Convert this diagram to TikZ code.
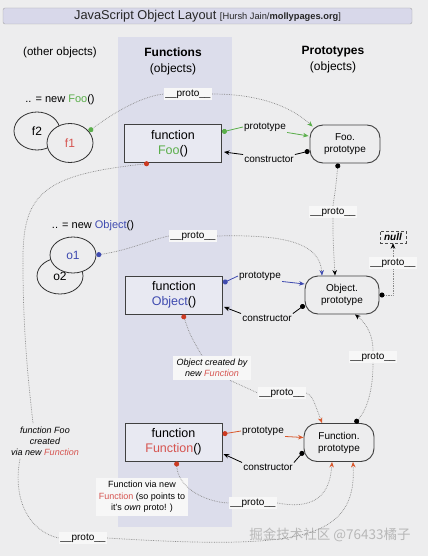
\documentclass[tikz,border=0pt]{standalone}
\usepackage{fontspec}
\setmainfont{Liberation Sans}
\newfontfamily\cjk{Noto Sans CJK SC}
\usetikzlibrary{arrows.meta,shapes.geometric}
\definecolor{bgc}{HTML}{EDEDEE}
\definecolor{colc}{HTML}{DCDDEB}
\definecolor{titlec}{HTML}{D8D8EA}
\definecolor{foog}{HTML}{5AAE4A}
\definecolor{objb}{HTML}{3F4BB0}
\definecolor{funr}{HTML}{D65450}
\definecolor{dotr}{HTML}{CC3A22}
\definecolor{arrr}{HTML}{D9582C}
\definecolor{linec}{HTML}{8A8A8A}

\begin{document}
\begin{tikzpicture}[x=1pt, y=-1pt,
    fnbox/.style={draw=black!75, line width=1pt, fill=white!35!colc, minimum width=97pt, minimum height=38pt, align=center, font=\fontsize{12.5}{15}\selectfont},
    protobox/.style={draw=black!75, line width=0.9pt, rounded corners=13pt, minimum height=38pt, align=center, font=\fontsize{10}{12}\selectfont},
    objell/.style={ellipse, draw=black!80, line width=0.8pt, fill=bgc, minimum width=46pt, minimum height=38pt, font=\fontsize{12}{14}\selectfont},
    lbl/.style={inner sep=1pt, font=\fontsize{10}{12}\selectfont},
    plabel/.style={fill=white!55!bgc, inner sep=1.5pt, font=\fontsize{10}{12}\selectfont},
    note/.style={align=center, font=\fontsize{9}{11}\selectfont\itshape},
    pline/.style={densely dotted, line width=0.7pt, draw=linec},
    link/.style={line width=0.8pt},
    gdot/.style={arrows={Circle[length=5pt,color=#1]}-},
    arr/.style={arrows=-{Stealth[length=5.5pt,width=4.5pt,color=#1]}}
    ]
    \fill[bgc] (0,0) rectangle (428,556);
    \fill[colc] (118,37) rectangle (232,527);
    \node[draw=black!35, fill=titlec, rounded corners=2pt, minimum width=409pt, minimum height=16pt, inner sep=0pt, text=black!85] (title) at (207.5,16) {\fontsize{12.8}{14}\selectfont JavaScript Object Layout {\fontsize{9.3}{11}\selectfont [Hursh Jain/\textbf{mollypages.org}]}};

    \node[font=\fontsize{11.5}{14}\selectfont] (otherHead) at (60,53) {(other objects)};
    \node[align=center, font=\fontsize{12}{16}\selectfont] (fnHead) at (173,61) {\textbf{Functions}\\(objects)};
    \node[align=center, font=\fontsize{12}{16}\selectfont] (protoHead) at (333,60) {\textbf{Prototypes}\\(objects)};

    \node[font=\fontsize{11}{13}\selectfont] (newFoo) at (60,100) {.. = new \textcolor{foog}{Foo}()};
    \node[objell] (f2) at (37,131) {f2};
    \node[objell, minimum height=39pt, text=funr] (f1) at (70,143) {f1};
    \node[font=\fontsize{11}{13}\selectfont] (newObj) at (93,226) {.. = new \textcolor{objb}{Object}()};
    \node[objell, minimum height=36pt] (o2) at (60,276) {\raisebox{-6pt}{o2}};
    \node[objell, minimum height=36pt, text=objb] (o1) at (73,255) {o1};

    \node[fnbox] (fooFn) at (173,144) {function\\\textcolor{foog}{Foo}()};
    \node[fnbox] (objFn) at (174,295) {function\\\textcolor{objb}{Object}()};
    \node[fnbox] (funFn) at (173.5,442) {function\\\textcolor{funr}{Function}()};
    \node[protobox, minimum width=70pt] (fooProto) at (345,144) {Foo.\\prototype};
    \node[protobox, minimum width=74pt] (objProto) at (342,295) {Object.\\prototype};
    \node[protobox, minimum width=70pt] (funProto) at (339,442.5) {Function.\\prototype};
    \node[draw=black!70, densely dashed, minimum width=26pt, minimum height=12pt, inner sep=1pt, font=\fontsize{10}{12}\selectfont\bfseries\itshape] (nullBox) at (393,237) {null};

    \node[lbl] (fooPt) at (265,127) {prototype};
    \node[lbl] (fooCt) at (269,159) {constructor};
    \node[lbl] (objPt) at (260,276) {prototype};
    \node[lbl] (objCt) at (267,318) {constructor};
    \node[lbl] (funPt) at (263,431) {prototype};
    \node[lbl] (funCt) at (268,467) {constructor};

    \node[plabel] (fooUp) at (188,94) {\_\_proto\_\_};
    \node[plabel] (objUp) at (193,236) {\_\_proto\_\_};
    \node[plabel] (fooProtoUp) at (333,212) {\_\_proto\_\_};
    \node[plabel] (nullUp) at (393,263) {\_\_proto\_\_};
    \node[plabel] (objFnUp) at (282,393) {\_\_proto\_\_};
    \node[plabel] (funProtoUp) at (373,357) {\_\_proto\_\_};
    \node[plabel] (funFnUp) at (253,503) {\_\_proto\_\_};
    \node[plabel] (fooFnUp) at (83,538) {\_\_proto\_\_};

    \node[note, fill=white!55!bgc] (objNote) at (212,368) {Object created by\\new \textcolor{funr}{Function}};
    \node[note] (fooNote) at (45,441) {function Foo\\created\\via new \textcolor{funr}{Function}};
    \node[note, fill=white!55!bgc, font=\fontsize{9}{11.5}\selectfont] (funNote) at (142,497) {Function via new\\\textcolor{funr}{Function} (so points to\\it's \textit{own} proto! )};
    \node[text=black!28, font=\cjk\fontsize{13.5}{16}\selectfont] (mark) at (330,535) {掘金技术社区 @76433橘子};

    \draw[link, draw=foog, gdot=foog] ([shift={(0,-12)}]fooFn.east) -- (fooPt.west);
    \draw[link, draw=foog, arr=foog] (fooPt.south east) -- ([shift={(-1,-8)}]fooProto.west);
    \draw[link, gdot=black] ([shift={(0,7)}]fooProto.west) -- (fooCt.north east);
    \draw[link, arr=black] (fooCt.north west) -- ([shift={(2,8)}]fooFn.east);
    \draw[link, draw=objb, gdot=objb] ([shift={(0,-12)}]objFn.east) -- (objPt.west);
    \draw[link, draw=objb, arr=objb] (objPt.south east) -- ([shift={(0,-11)}]objProto.west);
    \draw[link, gdot=black] ([shift={(0,10)}]objProto.west) -- (objCt.north east);
    \draw[link, arr=black] (objCt.north west) -- ([shift={(1,12)}]objFn.east);
    \draw[link, draw=arrr, gdot=dotr] ([shift={(0,-8)}]funFn.east) -- (funPt.west);
    \draw[link, draw=arrr, arr=arrr] (funPt.south east) -- ([shift={(0,-5)}]funProto.west);
    \draw[link, gdot=black] ([shift={(0,9)}]funProto.west) -- (funCt.north east);
    \draw[link, arr=black] (funCt.north west) -- ([shift={(1,12)}]funFn.east);

    \draw[pline, gdot=foog] (f1.32) .. controls (120,108) and (145,96) .. (fooUp.west);
    \draw[pline, arr=foog] (fooUp.east) .. controls (265,94) and (295,110) .. ([shift={(3,2)}]fooProto.north west);
    \draw[pline, gdot=black] ([shift={(-7,0)}]fooProto.south) .. controls (336,185) .. (fooProtoUp.north);
    \draw[pline, arr=black] (fooProtoUp.south) .. controls (333,240) .. ([shift={(-7,0)}]objProto.north);
    \draw[pline, gdot=objb] (o1.east) .. controls (130,250) and (150,240) .. (objUp.west);
    \draw[pline, arr=objb] (objUp.east) .. controls (290,234) and (320,245) .. ([shift={(-20,0)}]objProto.north);
    \draw[pline, gdot=black] (objProto.east) -| (nullUp.south);
    \draw[pline, arr=black] (nullUp.north) -- (nullBox.south);
    \draw[pline, gdot=dotr] ([shift={(9,0)}]objFn.south) .. controls (190,335) .. ([shift={(-10,0)}]objNote.north);
    \draw[pline] ([shift={(18,0)}]objNote.south) -- (objFnUp.west);
    \draw[pline, arr=arrr] (objFnUp.east) .. controls (312,396) .. ([shift={(-17,0)}]funProto.north);
    \draw[pline, gdot=black] ([shift={(16,0)}]funProto.north) .. controls (365,412) and (373,395) .. (funProtoUp.south);
    \draw[pline, arr=black] (funProtoUp.north) .. controls (373,330) and (362,320) .. ([shift={(13,0)}]objProto.south);
    \draw[pline, gdot=dotr] ([shift={(3,0)}]funFn.south) .. controls (178,488) and (205,502) .. (funFnUp.west);
    \draw[pline, arr=arrr] (funFnUp.east) .. controls (315,510) and (330,495) .. ([shift={(-7,0)}]funProto.south);
    \draw[pline, gdot=dotr] ([shift={(-24,0)}]fooFn.south) .. controls (40,175) and (22,195) .. (23,265) .. controls (23,340) and (30,395) .. ([shift={(-12,0)}]fooNote.north);
    \draw[pline] ([shift={(-25,0)}]fooNote.south) .. controls (12,500) and (30,532) .. (fooFnUp.west);
    \draw[pline, arr=arrr] (fooFnUp.east) .. controls (300,550) and (357,540) .. ([shift={(14,0)}]funProto.south);
\end{tikzpicture}
\end{document}
